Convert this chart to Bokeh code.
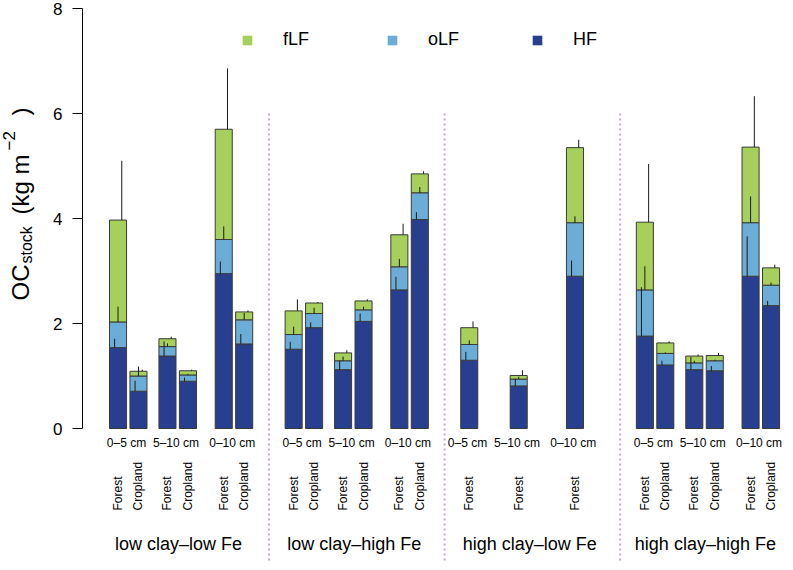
import math
from bokeh.plotting import figure
from bokeh.models import Range1d, FixedTicker, Legend, LegendItem, ColumnDataSource
from bokeh.core.properties import value
from bokeh.embed import file_html
from bokeh.resources import INLINE

nan = float("nan")

# ---------------- data ----------------
groups = ["low clay\u2013low Fe", "low clay\u2013high Fe", "high clay\u2013low Fe", "high clay\u2013high Fe"]
depths = ["0\u20135 cm", "5\u201310 cm", "0\u201310 cm"]
landuse = ["Forest", "Cropland"]
fractions = ["fLF", "oLF", "HF"]

# order inside each group: Forest 0-5, Cropland 0-5, Forest 5-10, Cropland 5-10, Forest 0-10, Cropland 0-10
hf = [1.54, 0.71, 1.38, 0.90, 2.95, 1.61,
      1.51, 1.92, 1.12, 2.04, 2.64, 3.98,
      1.30, nan, 0.81, nan, 2.90, nan,
      1.76, 1.21, 1.12, 1.10, 2.90, 2.34]
olf = [0.49, 0.29, 0.18, 0.12, 0.65, 0.46,
       0.28, 0.27, 0.17, 0.22, 0.44, 0.51,
       0.30, nan, 0.13, nan, 1.02, nan,
       0.88, 0.22, 0.13, 0.19, 1.02, 0.39]
flf = [1.94, 0.09, 0.15, 0.08, 2.10, 0.15,
       0.45, 0.20, 0.15, 0.17, 0.61, 0.36,
       0.32, nan, 0.07, nan, 1.43, nan,
       1.29, 0.20, 0.13, 0.10, 1.44, 0.33]
se_hf = [0.17, 0.20, 0.28, 0.07, 0.23, 0.19,
         0.14, 0.10, 0.17, 0.15, 0.25, 0.14,
         0.16, nan, 0.14, nan, 0.30, nan,
         0.93, 0.08, 0.24, 0.09, 0.76, 0.09]
se_olf = [0.29, 0.18, 0.06, 0.02, 0.25, 0.13,
          0.15, 0.11, 0.08, 0.06, 0.15, 0.11,
          0.08, nan, 0.045, nan, 0.12, nan,
          0.45, 0.02, 0.04, 0.02, 0.50, 0.05]
se_flf = [1.13, 0.03, 0.04, 0.02, 1.16, 0.03,
          0.22, 0.02, 0.05, 0.03, 0.21, 0.05,
          0.12, nan, 0.10, nan, 0.15, nan,
          1.11, 0.03, 0.03, 0.05, 0.97, 0.06]
y_ticks = [0, 2, 4, 6, 8]

# ---------------- style / layout ----------------
FONT = "Liberation Sans"
C_HF, C_OLF, C_FLF = "#283f8f", "#6badd6", "#a6cf5b"
BORDER = "#3a3a3a"
DIV_COLOR = "#c8a6d0"

W, H = 793, 570
PX_UNIT = 17.05          # px per bar width
PAGE_X0 = 109            # page x of x=0
PAGE_Y0, PAGE_Y8 = 428, 8
SY = (PAGE_Y0 - PAGE_Y8) / 8.0
AXIS_PAGE_X = 82


def px(page_x):
    return (page_x - PAGE_X0) / PX_UNIT


def py(page_y):
    return (PAGE_Y0 - page_y) / SY


bar_w = 1.0
slot_space = [0.0, 0.2, 0.7, 0.2, 1.1, 0.2]
group_gap = 1.9
n_slots = 6

lefts = []
pos = 0.0
for g in range(len(groups)):
    for s in range(n_slots):
        if g == 0 and s == 0:
            pass
        elif s == 0:
            pos += bar_w + group_gap
        else:
            pos += bar_w + slot_space[s]
        lefts.append(pos)
centers = [l + bar_w / 2 for l in lefts]

p = figure(width=W, height=H, x_range=Range1d(px(0), px(W)),
           y_range=Range1d(py(H), py(0)),
           output_backend="svg", toolbar_location=None, x_axis_location=None,
           min_border_left=0, min_border_right=0,
           min_border_top=0, min_border_bottom=0)
p.outline_line_color = None
p.xgrid.visible = False
p.ygrid.visible = False
p.background_fill_color = "white"

ax = p.yaxis[0]
ax.fixed_location = px(AXIS_PAGE_X)
ax.ticker = FixedTicker(ticks=y_ticks)
ax.bounds = (0, 8)
ax.major_tick_out = 10
ax.major_tick_in = 0
ax.minor_tick_out = 0
ax.minor_tick_in = 0
ax.axis_line_color = "black"
ax.major_tick_line_color = "black"
ax.major_label_text_font = FONT
ax.major_label_text_font_size = "17px"
ax.major_label_text_color = "black"
ax.major_label_standoff = 10

# ---------------- bars ----------------
idx = [i for i in range(len(hf)) if not math.isnan(hf[i])]
xc = [centers[i] for i in idx]
b_hf = [0.0 for i in idx]
t_hf = [hf[i] for i in idx]
t_olf = [hf[i] + olf[i] for i in idx]
t_flf = [hf[i] + olf[i] + flf[i] for i in idx]

fill_r = {}
for name, bottoms, tops, col in [("HF", b_hf, t_hf, C_HF), ("oLF", t_hf, t_olf, C_OLF), ("fLF", t_olf, t_flf, C_FLF)]:
    src = ColumnDataSource(dict(x=xc, bottom=bottoms, top=tops))
    fill_r[name] = p.vbar(x="x", bottom="bottom", top="top", width=bar_w, source=src,
                          fill_color=col, line_color=None)
    p.vbar(x="x", bottom="bottom", top="top", width=bar_w, source=src,
           fill_color=None, line_color=BORDER, line_width=1)

# error bars (upward only), slightly staggered
offsets = [-0.2, 0.0, 0.22]
for tops, se, off in [(t_hf, se_hf, offsets[0]), (t_olf, se_olf, offsets[1]), (t_flf, se_flf, offsets[2])]:
    ex = [c + off for c in xc]
    ey1 = [t + se[i] for t, i in zip(tops, idx)]
    p.segment(x0=ex, y0=tops, x1=ex, y1=ey1, line_color="#1a1a1a", line_width=1)

# ---------------- dividers ----------------
div_x = []
for g in range(len(groups) - 1):
    last = lefts[g * n_slots + n_slots - 1] + bar_w
    div_x.append(last + group_gap / 2)
p.segment(x0=div_x, y0=[py(113)] * len(div_x), x1=div_x, y1=[py(562)] * len(div_x),
          line_color=DIV_COLOR, line_width=2, line_dash="2 3")

# ---------------- category labels ----------------
dep_x, dep_t = [], []
lu_x, lu_t = [], []
for g in range(len(groups)):
    for d in range(len(depths)):
        present = []
        for k in range(len(landuse)):
            i = g * n_slots + d * 2 + k
            if not math.isnan(hf[i]):
                present.append(centers[i])
                lu_x.append(centers[i])
                lu_t.append(landuse[k])
        dep_x.append(sum(present) / len(present) - 0.1)
        dep_t.append(depths[d])

p.text(x=dep_x, y=[py(442.5)] * len(dep_x), text=dep_t, text_font=value(FONT),
       text_font_size="12px", text_align="center", text_baseline="middle", text_color="black")
p.text(x=lu_x, y=[py(510)] * len(lu_x), text=lu_t, text_font=value(FONT),
       text_font_size="12px", text_align="left", text_baseline="middle", text_color="black",
       angle=math.pi / 2)

grp_x = []
for g in range(len(groups)):
    a = lefts[g * n_slots]
    b = lefts[g * n_slots + n_slots - 1] + bar_w
    grp_x.append((a + b) / 2 - 0.15)
p.text(x=grp_x, y=[py(543.5)] * len(grp_x), text=groups, text_font=value(FONT),
       text_font_size="18px", text_align="center", text_baseline="middle", text_color="black")

# ---------------- legend ----------------
items = [LegendItem(label=name, renderers=[fill_r[name]]) for name in fractions]
legend = Legend(items=items, orientation="horizontal", location=(241, 520),
                padding=0, margin=0, spacing=0, label_standoff=30,
                glyph_width=12, glyph_height=12, label_width=103, label_height=12,
                border_line_color=None, background_fill_alpha=0,
                label_text_font=FONT, label_text_font_size="18px", label_text_color="black")
p.add_layout(legend)

# ---------------- y axis title (pieces, rotated) ----------------
pieces = [
    ("OC", "24px", 19.5, 300),
    ("stock", "16px", 26, 263),
    ("(kg m", "24px", 19.5, 214),
    ("\u22122", "17px", 8, 150),
    (")", "24px", 19.5, 115),
]
for txt, fs, bx, sy in pieces:
    p.text(x=[px(bx)], y=[py(sy)], text=[txt], angle=math.pi / 2, text_align="left",
           text_baseline="middle", text_font=value(FONT), text_font_size=fs, text_color="black")

open("out.html", "w").write(file_html(p, INLINE))
